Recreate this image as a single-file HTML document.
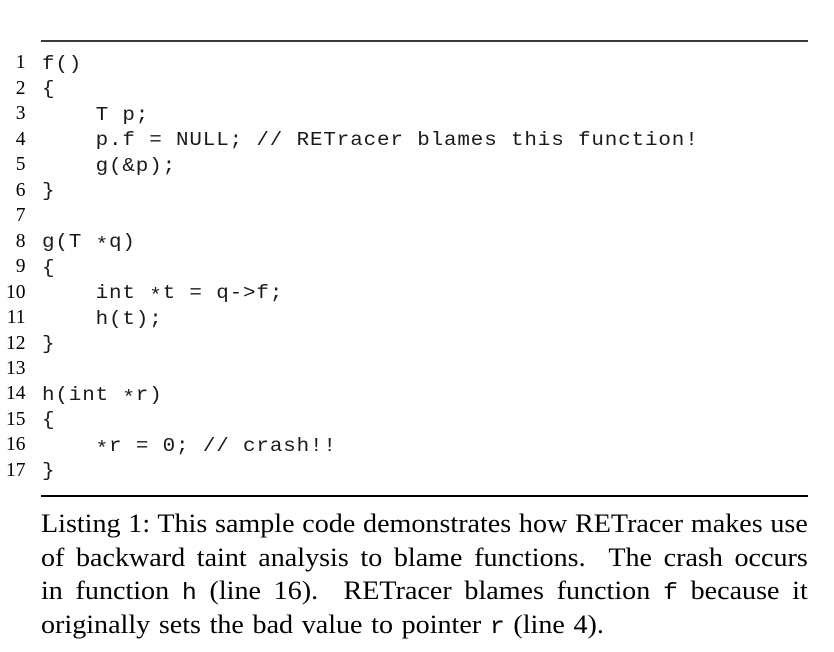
<!DOCTYPE html>
<html>
<head>
<meta charset="utf-8">
<style>
  html, body { margin:0; padding:0; background:#fff; }
  body { width:834px; height:652px; position:relative; overflow:hidden; }
  .rule { position:absolute; left:41px; width:767px; }
  .nums {
    position:absolute; left:0; top:50.2px; width:25.5px;
    font-family:"Liberation Serif", serif; font-size:19.5px; line-height:25.48px;
    text-align:right; color:#000;
  }
  .code {
    position:absolute; left:41.5px; top:51.7px;
    font-family:"Liberation Mono", monospace; font-size:19px; line-height:25.48px;
    white-space:pre; letter-spacing:0.78px; color:#1a1a1a;
    transform:scaleX(1.1); transform-origin:left top;
  }
  .st { position:relative; top:3px; }
  .cap {
    position:absolute; left:41px; top:507px; width:710px;
    font-family:"Liberation Serif", serif; font-size:26px; line-height:33.6px; color:#000;
    transform:scaleX(1.08); transform-origin:left top;
  }
  .cap div { height:33.6px; overflow:visible; text-align:justify; text-align-last:justify; white-space:normal; }
  .cap div.last { text-align:left; text-align-last:left; word-spacing:1.5px; }
  .tt { font-family:"Liberation Mono", monospace; font-size:23px; line-height:1; }
</style>
</head>
<body>
<div class="rule" style="top:40px;height:1.5px;background:#3a3a3a;"></div>

<div class="nums">1<br>2<br>3<br>4<br>5<br>6<br>7<br>8<br>9<br>10<br>11<br>12<br>13<br>14<br>15<br>16<br>17</div>

<div class="code">f()
{
    T p;
    p.f = NULL; // RETracer blames this function!
    g(&amp;p);
}

g(T <span class="st">*</span>q)
{
    int <span class="st">*</span>t = q-&gt;f;
    h(t);
}

h(int <span class="st">*</span>r)
{
    <span class="st">*</span>r = 0; // crash!!
}</div>

<div class="rule" style="top:495px;height:2px;background:#000;"></div>

<div class="cap">
  <div>Listing 1: This sample code demonstrates how RETracer makes use</div>
  <div>of backward taint analysis to blame functions.&nbsp; The crash occurs</div>
  <div>in function <span class="tt">h</span> (line 16).&nbsp; RETracer blames function <span class="tt">f</span> because it</div>
  <div class="last">originally sets the bad value to pointer <span class="tt">r</span> (line 4).</div>
</div>
</body>
</html>
